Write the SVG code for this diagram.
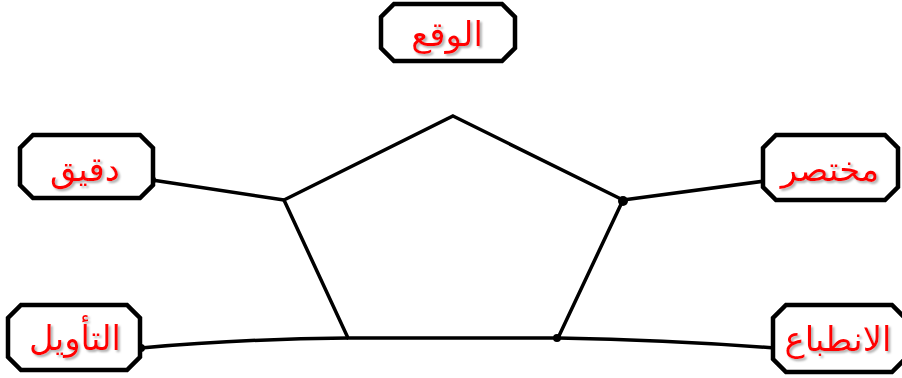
<svg xmlns="http://www.w3.org/2000/svg" width="902" height="378" viewBox="0 0 902 378">
<defs>
<filter id="shadow" x="-10%" y="-20%" width="130%" height="150%">
<feDropShadow dx="2" dy="2" stdDeviation="0.8" flood-color="#999" flood-opacity="0.8"/>
</filter>
</defs>
<style>
.box{fill:#fff;stroke:#000;stroke-width:4.5;stroke-linejoin:miter}
.lbl{font-family:"DejaVu Sans",sans-serif;font-size:34px;fill:#f00;text-anchor:middle;direction:rtl;filter:url(#shadow)}
.ln{fill:none;stroke:#000;stroke-width:3.5}
</style>
<rect width="902" height="378" fill="#fff"/>
<g id="connectors">
<polygon class="ln" points="453,116 623,200 558,338 348,338 284,200"/>
<path class="ln" d="M152,180 L284,200"/>
<path class="ln" d="M623,200 L765,181"/>
<path class="ln" d="M141,348 Q240,339 348,338"/>
<path class="ln" d="M558,338 Q670,340 775,348"/>
<circle cx="152" cy="180" r="4"/>
<circle cx="623" cy="201" r="5"/>
<circle cx="141" cy="348" r="4"/>
<circle cx="557" cy="338" r="4"/>
</g>
<g id="n_top">
<polygon class="box" points="394,4 502,4 515,17 515,48 502,61 394,61 381,48 381,17"/>
<text class="lbl" x="447" y="46">الوقع</text>
</g>
<g id="n_daqeeq">
<polygon class="box" points="33,135 140,135 153,148 153,185 140,198 33,198 20,185 20,148"/>
<text class="lbl" x="85" y="181">دقيق</text>
</g>
<g id="n_mukhtasar">
<polygon class="box" points="776,135 885,135 898,148 898,187 885,200 776,200 763,187 763,148"/>
<text class="lbl" x="830" y="181">مختصر</text>
</g>
<g id="n_taweel">
<polygon class="box" points="21,305 127,305 140,318 140,357 127,370 21,370 8,357 8,318"/>
<text class="lbl" x="75" y="350">التأويل</text>
</g>
<g id="n_inbitaa">
<polygon class="box" points="786,305 892,305 905,318 905,359 892,372 786,372 773,359 773,318"/>
<text class="lbl" x="838" y="351">الانطباع</text>
</g>
</svg>
